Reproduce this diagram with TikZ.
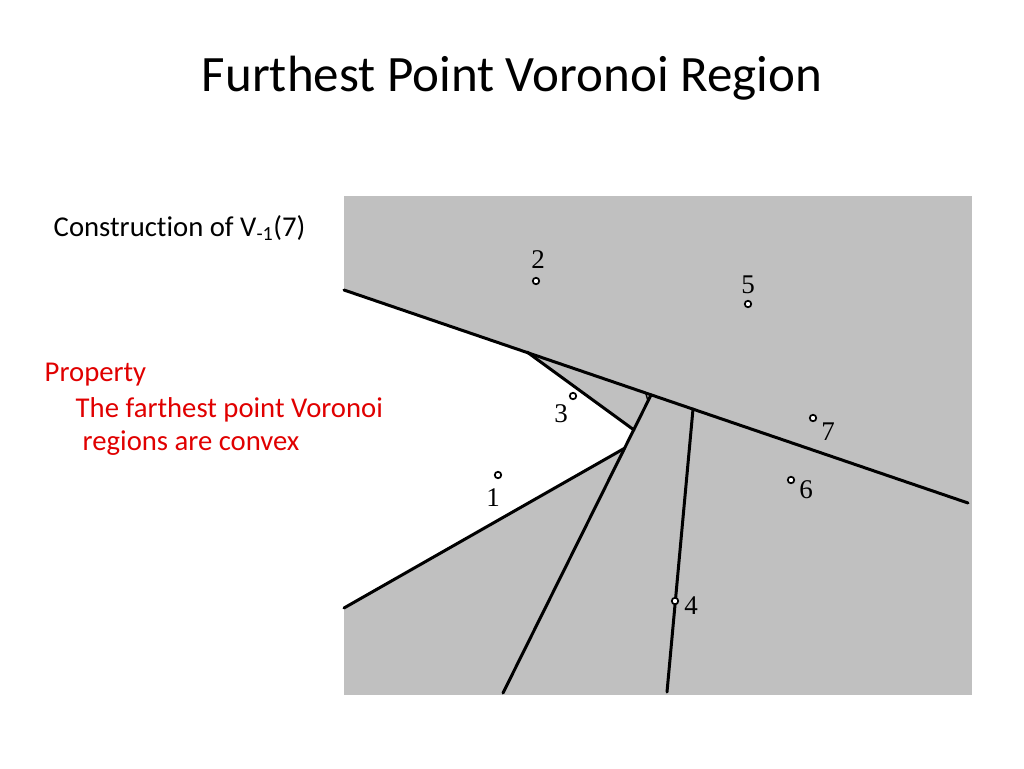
\documentclass[tikz,border=0pt]{standalone}
\usepackage{fontspec}
\setmainfont{Carlito}[Ligatures=CommonOff]
\newfontfamily\sitefont{Liberation Serif}
\definecolor{regiongray}{HTML}{C0C0C0}
\definecolor{proptext}{HTML}{E00000}

\begin{document}
\begin{tikzpicture}[x=1pt,y=-1pt,thick,site/.style={circle,draw,line width=1.7pt,inner sep=0pt,minimum size=6.5pt,fill=white},site label/.style={font=\sitefont\fontsize{27}{27}\selectfont,inner sep=0pt}]
\tikzstyle{bisector} = [draw,line width=3pt,black,line cap=round]

\useasboundingbox (0,0) rectangle (1024,768);

\coordinate (boxtl) at (344,196);
\coordinate (boxbr) at (972,695);
\coordinate (aleft) at (344,290);
\coordinate (aright) at (968,503);
\coordinate (apex) at (527,352);
\coordinate (bend) at (634,430);
\coordinate (ctop) at (651,395);
\coordinate (cbot) at (503,693);
\coordinate (dtop) at (625,448);
\coordinate (dleft) at (344,608);
\coordinate (etop) at (693,409);
\coordinate (ebot) at (667,692);
\coordinate (ticka) at (646,394);
\coordinate (tickb) at (648,401);

% Regions
\fill[regiongray] (boxtl) rectangle (boxbr);
\fill[white] (aleft) -- (apex) -- (bend) -- (dtop) -- (dleft) -- cycle;

% Title and texts
\node (title) at (512,78) {\fontsize{51}{60}\selectfont Furthest Point Voronoi Region};
\node[anchor=west] (constr) at (50,228) {\fontsize{28.7}{34}\selectfont Construction of V\textsubscript{-1}(7)};
\node[anchor=west,text=proptext] (prop) at (41,375) {\fontsize{28.7}{34}\selectfont Property};
\node[anchor=west,text=proptext] (prop2) at (72,410) {\fontsize{28.7}{34}\selectfont The farthest point Voronoi};
\node[anchor=west,text=proptext] (prop3) at (79,443) {\fontsize{28.7}{34}\selectfont regions are convex};

% Bisectors
\draw[bisector] (aleft) -- (aright);
\draw[bisector] (apex) -- (bend);
\draw[bisector] (ctop) -- (cbot);
\draw[bisector] (dtop) -- (dleft);
\draw[bisector] (etop) -- (ebot);
\draw[line width=1.4pt] (ticka) -- (tickb);

% Sites
\node[site] (s1) at (498,475) {};
\node[site] (s2) at (536,281) {};
\node[site] (s3) at (573,396) {};
\node[site] (s4) at (675,601) {};
\node[site] (s5) at (748,304) {};
\node[site] (s6) at (791,480) {};
\node[site] (s7) at (813,418) {};

\node[site label] (l1) at (493,498) {1};
\node[site label] (l2) at (538,260) {2};
\node[site label] (l3) at (561,414) {3};
\node[site label] (l4) at (691,606) {4};
\node[site label] (l5) at (748,285) {5};
\node[site label] (l6) at (806,490) {6};
\node[site label] (l7) at (828,432) {7};

\end{tikzpicture}
\end{document}
